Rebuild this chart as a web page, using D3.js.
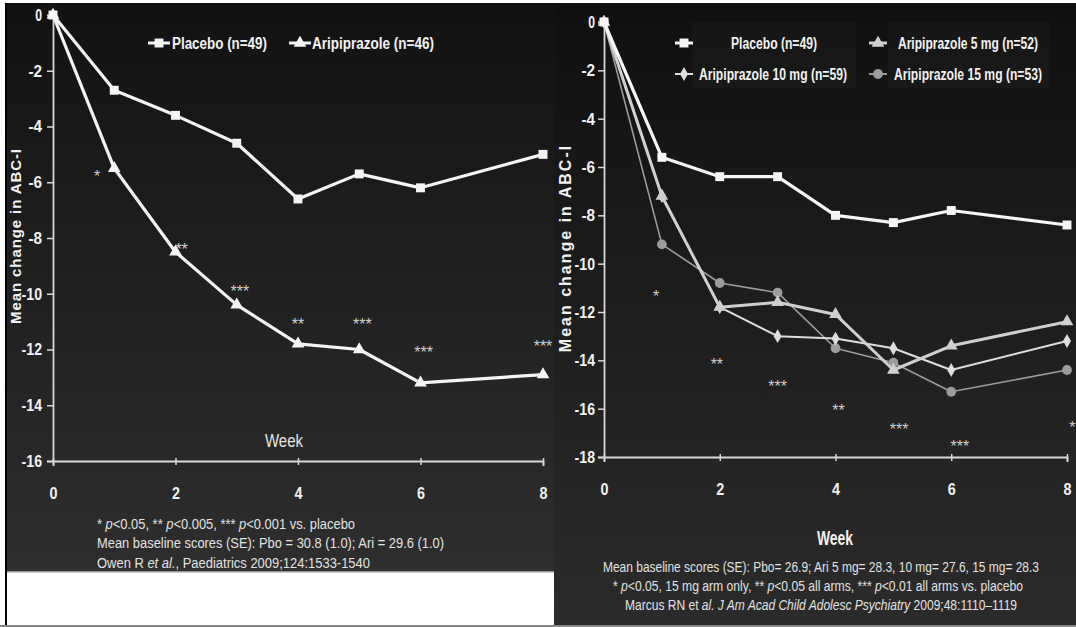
<!DOCTYPE html>
<html>
<head>
<meta charset="utf-8">
<script src="https://cdn.jsdelivr.net/npm/d3@7"></script>
<style>
body { margin: 0; background: #fff; }
svg { display: block; }
text { font-family: "Liberation Sans", Arial, sans-serif; }
</style>
</head>
<body>
<svg id="chart" width="1076" height="627"></svg>
<script>
// ---- left study (Owen 2009) ----
const weeks = [0, 1, 2, 3, 4, 5, 6, 8];
const owenPlacebo = [0, -2.7, -3.6, -4.6, -6.6, -5.7, -6.2, -5.0];
const owenAri = [0, -5.5, -8.5, -10.4, -11.8, -12.0, -13.2, -12.9];
const owenStars = [
  {week: 0.72, val: -5.75, txt: "*"},
  {week: 2.1, val: -8.35, txt: "**"},
  {week: 3.05, val: -9.85, txt: "***"},
  {week: 4.0, val: -11.05, txt: "**"},
  {week: 5.05, val: -11.05, txt: "***"},
  {week: 6.05, val: -12.05, txt: "***"},
  {week: 8.0, val: -11.85, txt: "***"}
];
const owenYTicks = [0, -2, -4, -6, -8, -10, -12, -14, -16];
const xTicks = [0, 2, 4, 6, 8];

// ---- right study (Marcus 2009) ----
const marcusPlacebo = [0, -5.6, -6.4, -6.4, -8.0, -8.3, -7.8, -8.4];
const marcus5 = [0, -7.2, -11.8, -11.6, -12.1, -14.4, -13.4, -12.4];
const marcus10 = [0, -7.2, -11.8, -13.0, -13.1, -13.5, -14.4, -13.2];
const marcus15 = [0, -9.2, -10.8, -11.2, -13.5, -14.1, -15.3, -14.4];
const marcusStars = [
  {week: 0.9, val: -11.3, txt: "*"},
  {week: 1.95, val: -14.1, txt: "**"},
  {week: 3.0, val: -15.0, txt: "***"},
  {week: 4.05, val: -16.0, txt: "**"},
  {week: 5.1, val: -16.8, txt: "***"},
  {week: 6.15, val: -17.5, txt: "***"},
  {week: 8.2, val: -16.7, txt: "***"}
];
const marcusYTicks = [0, -2, -4, -6, -8, -10, -12, -14, -16, -18];

const svg = d3.select("#chart");
const defs = svg.append("defs");

function grad(id, top, bottom) {
  const g = defs.append("linearGradient").attr("id", id)
    .attr("x1", 0).attr("y1", 0).attr("x2", 0).attr("y2", 1);
  g.append("stop").attr("offset", "0%").attr("stop-color", top);
  g.append("stop").attr("offset", "100%").attr("stop-color", bottom);
}
grad("bgL", "#121212", "#2e2e2e");
grad("bgR", "#101010", "#2b2b2b");

// frame bits
svg.append("rect").attr("x", 0).attr("y", 0).attr("width", 1076).attr("height", 627).attr("fill", "#fff");
svg.append("rect").attr("x", 5).attr("y", 3).attr("width", 2).attr("height", 624).attr("fill", "#000");
svg.append("rect").attr("x", 7).attr("y", 3).attr("width", 548).attr("height", 569).attr("fill", "url(#bgL)");
svg.append("rect").attr("x", 7).attr("y", 571).attr("width", 548).attr("height", 1.5).attr("fill", "#999");
svg.append("rect").attr("x", 554).attr("y", 3).attr("width", 522).attr("height", 622).attr("fill", "url(#bgR)");
svg.append("rect").attr("x", 0).attr("y", 625).attr("width", 1076).attr("height", 2).attr("fill", "#888");

// symbol helpers
const sq = d3.symbol(d3.symbolSquare, 80);
const tri = d3.symbol(d3.symbolTriangle, 70);
const dia = d3.symbol(d3.symbolDiamond, 55);
const circ = d3.symbol(d3.symbolCircle, 75);

// narrow text: squeeze to the width seen in the picture
function narrow(sel, w) {
  return sel.attr("textLength", w).attr("lengthAdjust", "spacingAndGlyphs");
}

function drawAxes(g, x, y, yTicks, pad) {
  const xa = g.append("g").attr("transform", `translate(0,${y.range()[0]})`)
    .call(d3.axisBottom(x).tickValues(xTicks).tickSize(5).tickPadding(21).tickFormat(d => String(d)));
  xa.selectAll(".tick line").attr("y1", -3).attr("y2", 4);
  const ya = g.append("g").attr("transform", `translate(${x.range()[0]},0)`)
    .call(d3.axisLeft(y).tickValues(yTicks).tickSize(6).tickPadding(pad).tickFormat(d => String(d)));
  [xa, ya].forEach(a => {
    a.select(".domain").attr("stroke", "#d8d8d8").attr("stroke-width", 1.8);
    a.selectAll(".tick line").attr("stroke", "#d8d8d8").attr("stroke-width", 1.5);
    a.selectAll("text").attr("fill", "#f2f2f2").attr("font-weight", "bold")
      .attr("font-size", 17).attr("font-family", null);
  });
  xa.selectAll("text").each(function(d) { narrow(d3.select(this), 8); });
  ya.selectAll("text").each(function(d) {
    const s = String(d);
    narrow(d3.select(this), s.length * 6.8);
  });
}

function series(g, x, y, vals, opt) {
  const pts = weeks.map((w, i) => [w, vals[i]]);
  g.append("path").datum(pts)
    .attr("fill", "none").attr("stroke", opt.color).attr("stroke-width", opt.width)
    .attr("stroke-linejoin", "round")
    .attr("d", d3.line().x(d => x(d[0])).y(d => y(d[1])));
  g.selectAll(null).data(pts).join("path")
    .attr("transform", d => `translate(${x(d[0])},${y(d[1])})`)
    .attr("d", opt.sym).attr("fill", opt.color);
}

function stars(g, x, y, data) {
  g.selectAll(null).data(data).join("text")
    .attr("x", d => x(d.week)).attr("y", d => y(d.val) + 7)
    .attr("text-anchor", "middle").attr("fill", "#cfcfcf")
    .attr("font-size", 16).text(d => d.txt);
}

function legendItem(g, cx, cy, sym, color, w, lineW) {
  g.append("line").attr("x1", cx - w).attr("x2", cx + w).attr("y1", cy).attr("y2", cy)
    .attr("stroke", color).attr("stroke-width", lineW);
  g.append("path").attr("transform", `translate(${cx},${cy})`).attr("d", sym).attr("fill", color);
}

// ================= LEFT =================
const xL = d3.scaleLinear().domain([0, 8]).range([53, 543]);
const yL = d3.scaleLinear().domain([-16, 0]).range([461, 15]);
const gL = svg.append("g");
drawAxes(gL, xL, yL, owenYTicks, 5);
series(gL, xL, yL, owenPlacebo, {color: "#f4f4f4", width: 3.2, sym: sq});
series(gL, xL, yL, owenAri, {color: "#f4f4f4", width: 3.2, sym: tri});
stars(gL, xL, yL, owenStars);

gL.append("text").attr("transform", "translate(21,236) rotate(-90)")
  .attr("text-anchor", "middle").attr("fill", "#f2f2f2").attr("font-weight", "bold")
  .attr("font-size", 15).attr("letter-spacing", 0.9).text("Mean change in ABC-I");

narrow(gL.append("text").attr("x", 265).attr("y", 447)
  .attr("font-size", 19).attr("fill", "#e6e6e6").text("Week"), 38);

// legend left
legendItem(gL, 159, 43, sq, "#f4f4f4", 11, 3);
narrow(gL.append("text").attr("x", 172).attr("y", 49)
  .attr("font-weight", "bold").attr("font-size", 16).attr("fill", "#f2f2f2").text("Placebo (n=49)"), 95);
legendItem(gL, 300, 43, tri, "#f4f4f4", 11, 3);
narrow(gL.append("text").attr("x", 312).attr("y", 49)
  .attr("font-weight", "bold").attr("font-size", 16).attr("fill", "#f2f2f2").text("Aripiprazole (n=46)"), 122);

// footnotes left
const fnL = gL.append("g").attr("font-size", 15.5).attr("fill", "#e2e2e2");
const l1 = narrow(fnL.append("text").attr("x", 97).attr("y", 529), 258);
l1.append("tspan").text("* ");
l1.append("tspan").attr("font-style", "italic").text("p");
l1.append("tspan").text("<0.05, ** ");
l1.append("tspan").attr("font-style", "italic").text("p");
l1.append("tspan").text("<0.005, *** ");
l1.append("tspan").attr("font-style", "italic").text("p");
l1.append("tspan").text("<0.001 vs. placebo");
narrow(fnL.append("text").attr("x", 97).attr("y", 548)
  .text("Mean baseline scores (SE): Pbo = 30.8 (1.0); Ari = 29.6 (1.0)"), 347);
const l3 = narrow(fnL.append("text").attr("x", 97).attr("y", 568), 273);
l3.append("tspan").text("Owen R ");
l3.append("tspan").attr("font-style", "italic").text("et al.");
l3.append("tspan").text(", Paediatrics 2009;124:1533-1540");

// ================= RIGHT =================
const xR = d3.scaleLinear().domain([0, 8]).range([604, 1067]);
const yR = d3.scaleLinear().domain([-18, 0]).range([457, 22]);
const gR = svg.append("g");
drawAxes(gR, xR, yR, marcusYTicks, 3);
series(gR, xR, yR, marcus15, {color: "#9c9c9c", width: 1.6, sym: circ});
series(gR, xR, yR, marcus10, {color: "#dedede", width: 2, sym: dia});
series(gR, xR, yR, marcus5, {color: "#cfcfcf", width: 3, sym: tri});
series(gR, xR, yR, marcusPlacebo, {color: "#f6f6f6", width: 3.2, sym: sq});
stars(gR, xR, yR, marcusStars);

gR.append("text").attr("transform", "translate(571,248) rotate(-90)")
  .attr("text-anchor", "middle").attr("fill", "#f2f2f2").attr("font-weight", "bold")
  .attr("font-size", 16).attr("letter-spacing", 2).text("Mean change in ABC-I");

narrow(gR.append("text").attr("x", 817).attr("y", 545)
  .attr("font-weight", "bold").attr("font-size", 20).attr("fill", "#f2f2f2").text("Week"), 36);

// legend right
gR.append("rect").attr("x", 692).attr("y", 22).attr("width", 164).attr("height", 66).attr("fill", "#fff").attr("opacity", 0.025);
gR.append("rect").attr("x", 888).attr("y", 22).attr("width", 162).attr("height", 66).attr("fill", "#fff").attr("opacity", 0.025);
const legR = [
  {label: "Placebo (n=49)", cx: 684, cy: 43, tx: 731, w: 86, sym: sq, color: "#f6f6f6", lw: 3},
  {label: "Aripiprazole 5 mg (n=52)", cx: 878, cy: 43, tx: 898, w: 140, sym: tri, color: "#cfcfcf", lw: 3},
  {label: "Aripiprazole 10 mg (n=59)", cx: 684, cy: 74, tx: 699, w: 148, sym: dia, color: "#dedede", lw: 2},
  {label: "Aripiprazole 15 mg (n=53)", cx: 878, cy: 74, tx: 894, w: 148, sym: circ, color: "#9c9c9c", lw: 2}
];
legR.forEach(d => {
  legendItem(gR, d.cx, d.cy, d.sym, d.color, 9, d.lw);
  narrow(gR.append("text").attr("x", d.tx).attr("y", d.cy + 6)
    .attr("font-weight", "bold").attr("font-size", 16)
    .attr("fill", "#f2f2f2").text(d.label), d.w);
});

// footnotes right
const fnR = gR.append("g").attr("font-size", 15.5).attr("fill", "#e2e2e2");
narrow(fnR.append("text").attr("x", 603).attr("y", 572)
  .text("Mean baseline scores (SE): Pbo= 26.9; Ari 5 mg= 28.3, 10 mg= 27.6, 15 mg= 28.3"), 436);
const r2 = narrow(fnR.append("text").attr("x", 613).attr("y", 591), 410);
r2.append("tspan").text("* ");
r2.append("tspan").attr("font-style", "italic").text("p");
r2.append("tspan").text("<0.05, 15 mg arm only, ** ");
r2.append("tspan").attr("font-style", "italic").text("p");
r2.append("tspan").text("<0.05 all arms, *** ");
r2.append("tspan").attr("font-style", "italic").text("p");
r2.append("tspan").text("<0.01 all arms vs. placebo");
const r3 = narrow(fnR.append("text").attr("x", 625).attr("y", 610), 392);
r3.append("tspan").text("Marcus RN et ");
r3.append("tspan").attr("font-style", "italic").text("al. J Am Acad Child Adolesc Psychiatry");
r3.append("tspan").text(" 2009;48:1110\u20131119");
</script>
</body>
</html>
